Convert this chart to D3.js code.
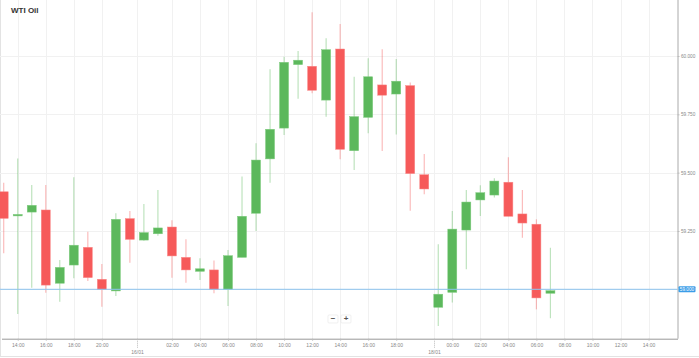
<!DOCTYPE html>
<html><head><meta charset="utf-8">
<script src="https://cdn.jsdelivr.net/npm/d3@7"></script>
<style>body{margin:0;background:#fff}svg{display:block;font-family:Arial,"Liberation Sans",sans-serif}</style>
</head><body><svg id="c" width="699" height="358"></svg>
<script>
const title = "WTI Oil";
const opens  = [59.418,59.316,59.331,59.340,59.026,59.104,59.180,59.043,58.993,59.303,59.211,59.238,59.267,59.137,59.077,59.083,59.000,59.137,59.326,59.559,59.691,59.963,59.956,59.811,60.030,59.594,59.737,59.876,59.837,59.873,59.491,58.923,58.987,59.254,59.383,59.404,59.459,59.323,59.279,58.983];
const highs  = [59.457,59.561,59.447,59.447,59.126,59.480,59.247,59.108,59.326,59.336,59.366,59.426,59.296,59.214,59.133,59.123,59.168,59.483,59.626,59.943,59.997,60.021,60.187,60.076,60.137,59.911,59.990,60.029,59.987,59.886,59.580,59.193,59.336,59.426,59.446,59.476,59.566,59.426,59.300,59.178];
const lows   = [59.154,58.894,59.007,58.985,58.947,59.047,59.036,58.925,58.971,59.114,59.208,59.230,59.050,59.028,59.040,58.983,58.928,59.137,59.250,59.457,59.661,59.817,59.840,59.740,59.557,59.511,59.669,59.593,59.663,59.337,59.407,58.843,58.943,59.086,59.314,59.393,59.313,59.221,58.914,58.876];
const closes = [59.304,59.321,59.360,59.018,59.094,59.189,59.050,59.000,59.300,59.214,59.243,59.263,59.143,59.083,59.088,59.000,59.144,59.313,59.554,59.686,59.973,59.982,59.853,60.027,59.600,59.740,59.911,59.832,59.892,59.496,59.430,58.979,59.258,59.374,59.414,59.464,59.313,59.284,58.963,58.994];
const tickLabels = ["14:00","16:00","18:00","20:00","02:00","04:00","06:00","08:00","10:00","12:00","14:00","16:00","18:00","00:00","02:00","04:00","06:00","08:00","10:00","12:00","14:00"];
const tickSlots  = [0,2,4,6,11,13,15,17,19,21,23,25,27,31,33,35,37,39,41,43,45];
const dateLabels = ["16/01","18/01"];
const dateSlots  = [8.53,29.68];
const priceTicks = [60.0,59.75,59.5,59.25];
const lastPrice = 59.0;

const svg = d3.select("#c");
const plotRight = 677.5, axisY = 338.7;
const x = d3.scaleLinear().domain([-1,47]).range([3.7,676.6]);
const y = d3.scaleLinear().domain([59,60]).range([289.3,56]);
const data = opens.map((o,k)=>({slot:k-1,o,h:highs[k],l:lows[k],c:closes[k]}));

// frame
svg.append("line").attr("x1",0.5).attr("x2",0.5).attr("y1",0).attr("y2",357).attr("stroke","#e3e3e3");
svg.append("line").attr("x1",0).attr("x2",699).attr("y1",356.5).attr("y2",356.5).attr("stroke","#e3e3e3");

// grid
const g = svg.append("g");
g.selectAll(".hg").data(priceTicks.concat([lastPrice])).enter().append("line")
 .attr("x1",0).attr("x2",plotRight).attr("y1",d=>Math.round(y(d))+0.5).attr("y2",d=>Math.round(y(d))+0.5)
 .attr("stroke","#f1f1f1");
g.selectAll(".vg").data(tickSlots.concat(dateSlots)).enter().append("line")
 .attr("x1",d=>Math.round(x(d))+0.5).attr("x2",d=>Math.round(x(d))+0.5).attr("y1",0).attr("y2",axisY)
 .attr("stroke","#f1f1f1");

// candles
const green="#5cb85c", red="#f65a5a";
const cg = svg.append("g");
cg.selectAll(".w").data(data).enter().append("line")
 .attr("x1",d=>x(d.slot)).attr("x2",d=>x(d.slot)).attr("y1",d=>y(d.h)).attr("y2",d=>y(d.l))
 .attr("stroke",d=>d.c>=d.o?green:red).attr("stroke-opacity",0.4).attr("stroke-width",1.2);
const bw = 9;
cg.selectAll(".b").data(data).enter().append("rect")
 .attr("x",d=>x(d.slot)-bw/2).attr("width",bw)
 .attr("y",d=>y(Math.max(d.o,d.c)))
 .attr("height",d=>Math.max(1.5,Math.abs(y(d.o)-y(d.c))))
 .attr("fill",d=>d.c>=d.o?green:red)
 .attr("stroke",d=>d.c>=d.o?"#7fcb7f":"#f98a8a").attr("stroke-width",0.5);

// last price line
svg.append("line").attr("x1",0).attr("x2",plotRight).attr("y1",y(lastPrice)).attr("y2",y(lastPrice))
 .attr("stroke","#8cc4ee").attr("stroke-width",1);

// right axis
const yAxis = d3.axisRight(y).tickValues(priceTicks).tickFormat(d3.format(".3f")).tickSize(2).tickPadding(1.5);
const ya = svg.append("g").attr("transform",`translate(${plotRight},0)`).call(yAxis);
ya.select(".domain").attr("d",`M0.5,0V${axisY}`).attr("stroke","#aaa");
ya.selectAll(".tick line").attr("stroke","#bbb");
ya.selectAll("text").attr("font-size","4.7px").attr("fill","#888");

// last price label
const lp = svg.append("g").attr("transform",`translate(${plotRight+1},${y(lastPrice)})`);
lp.append("rect").attr("x",0).attr("y",-3).attr("width",17).attr("height",6).attr("rx",1).attr("fill","#3b9de8");
lp.append("text").attr("x",8.5).attr("y",1.7).attr("text-anchor","middle").attr("font-size","4.7px").attr("fill","#fff").text(d3.format(".3f")(lastPrice));

// bottom axis
const xAxis = d3.axisBottom(x).tickValues(tickSlots).tickFormat((d,i)=>tickLabels[i]).tickSize(2).tickPadding(2.5);
const xa = svg.append("g").attr("transform",`translate(0,${axisY})`).call(xAxis);
xa.select(".domain").attr("d",`M2,0.5H${plotRight+0.5}`).attr("stroke","#999");
xa.selectAll(".tick line").attr("stroke","#bbb");
xa.selectAll("text").attr("font-size","5px").attr("fill","#888");

// date separators
const dg = svg.append("g").selectAll("g").data(dateSlots).enter().append("g")
 .attr("transform",d=>`translate(${Math.round(x(d))+0.5},${axisY})`);
dg.append("line").attr("y1",0).attr("y2",9).attr("stroke","#bbb").attr("stroke-dasharray","1,1");
dg.append("text").attr("y",15.5).attr("text-anchor","middle").attr("font-size","5px").attr("fill","#888")
 .text((d,i)=>dateLabels[i]);

// title
svg.append("text").attr("x",11).attr("y",13.3).attr("font-size","8px").attr("font-weight","bold").attr("fill","#333").text(title);

// zoom buttons
const zb = svg.append("g").attr("transform","translate(328,315)");
[["−",0],["+",13]].forEach(([t,dx])=>{
  zb.append("rect").attr("x",dx).attr("y",0).attr("width",10).attr("height",8).attr("rx",1)
    .attr("fill","#fff").attr("stroke","#e6e6e6").attr("stroke-width",0.6);
  zb.append("text").attr("x",dx+5).attr("y",6.3).attr("text-anchor","middle").attr("font-size","8px")
    .attr("font-weight","bold").attr("fill","#555").text(t);
});
</script></body></html>
